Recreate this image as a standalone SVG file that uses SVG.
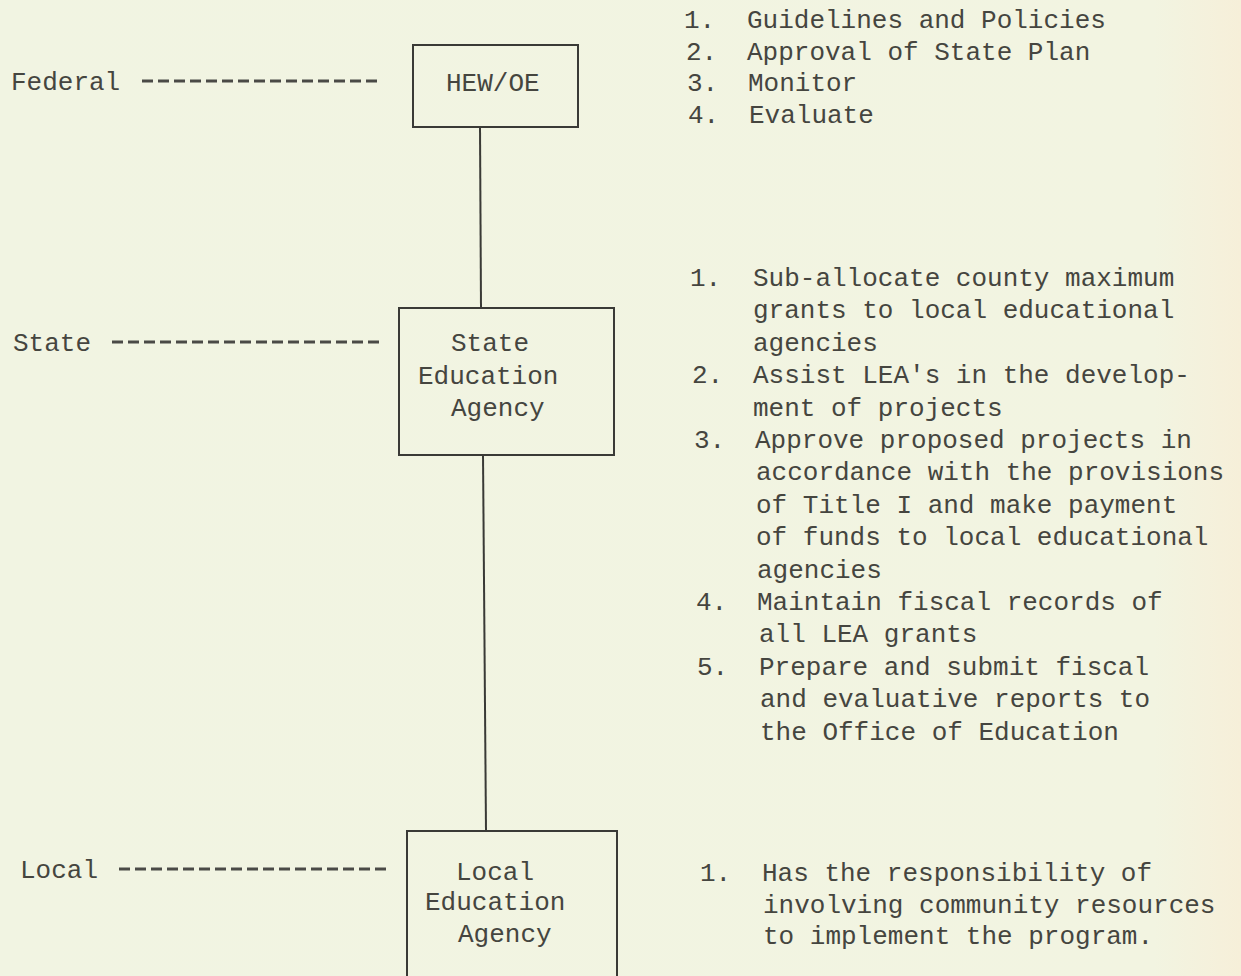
<svg xmlns="http://www.w3.org/2000/svg" width="1241" height="976" viewBox="0 0 1241 976">
  <defs>
    <linearGradient id="paper" x1="0" y1="0" x2="1" y2="0">
      <stop offset="0" stop-color="#f1f4e2"/>
      <stop offset="0.93" stop-color="#f2f4e1"/>
      <stop offset="1" stop-color="#f6efd9"/>
    </linearGradient>
    <style>
      text { font-family: "Liberation Mono", "Courier New", monospace; font-size: 26px; fill: #45453f; }
      .box { fill: none; stroke: #3a3a36; stroke-width: 2; }
      .link { stroke: #3a3a36; stroke-width: 2; fill: none; }
      .leader { stroke: #4a4a46; stroke-width: 3; stroke-dasharray: 11 5; fill: none; }
    </style>
  </defs>

  <rect width="1241" height="976" fill="url(#paper)"/>

  <!-- connectors: vertical links between agencies and level leaders -->
  <g id="connectors">
    <line class="link" x1="480" y1="127" x2="481" y2="308"/>
    <line class="link" x1="483" y1="455" x2="486" y2="831"/>
    <line class="leader" x1="142" y1="81" x2="381" y2="81"/>
    <line class="leader" x1="112" y1="342" x2="384" y2="342"/>
    <line class="leader" x1="119" y1="869" x2="391" y2="869"/>
  </g>

  <!-- level labels -->
  <g id="level-federal"><text x="11" y="90">Federal</text></g>
  <g id="level-state"><text x="13" y="351">State</text></g>
  <g id="level-local"><text x="20" y="878">Local</text></g>

  <!-- agency boxes -->
  <g id="hew-oe">
    <rect class="box" x="413" y="45" width="165" height="82"/>
    <text x="446" y="91">HEW/OE</text>
  </g>
  <g id="state-agency">
    <rect class="box" x="399" y="308" width="215" height="147"/>
    <text x="451" y="351">State</text>
    <text x="418" y="384">Education</text>
    <text x="451" y="416">Agency</text>
  </g>
  <g id="local-agency">
    <path class="box" d="M407,985 V831 H617 V985"/>
    <text x="456" y="880">Local</text>
    <text x="425" y="910">Education</text>
    <text x="458" y="942">Agency</text>
  </g>

  <!-- federal responsibilities -->
  <g id="federal-duties">
    <text x="684" y="28">1.</text><text x="747" y="28">Guidelines and Policies</text>
    <text x="686" y="60">2.</text><text x="747" y="60">Approval of State Plan</text>
    <text x="687" y="91">3.</text><text x="748" y="91">Monitor</text>
    <text x="688" y="123">4.</text><text x="749" y="123">Evaluate</text>
  </g>

  <!-- state responsibilities -->
  <g id="state-duties">
    <text x="690" y="286">1.</text><text x="753" y="286">Sub-allocate county maximum</text>
    <text x="753" y="318">grants to local educational</text>
    <text x="753" y="351">agencies</text>
    <text x="692" y="383">2.</text><text x="753" y="383">Assist LEA's in the develop-</text>
    <text x="753" y="416">ment of projects</text>
    <text x="694" y="448">3.</text><text x="755" y="448">Approve proposed projects in</text>
    <text x="756" y="480">accordance with the provisions</text>
    <text x="756" y="513">of Title I and make payment</text>
    <text x="756" y="545">of funds to local educational</text>
    <text x="757" y="578">agencies</text>
    <text x="696" y="610">4.</text><text x="757" y="610">Maintain fiscal records of</text>
    <text x="759" y="642">all LEA grants</text>
    <text x="697" y="675">5.</text><text x="759" y="675">Prepare and submit fiscal</text>
    <text x="760" y="707">and evaluative reports to</text>
    <text x="760" y="740">the Office of Education</text>
  </g>

  <!-- local responsibilities -->
  <g id="local-duties">
    <text x="700" y="881">1.</text><text x="762" y="881">Has the responsibility of</text>
    <text x="763" y="913">involving community resources</text>
    <text x="763" y="944">to implement the program.</text>
  </g>
</svg>
